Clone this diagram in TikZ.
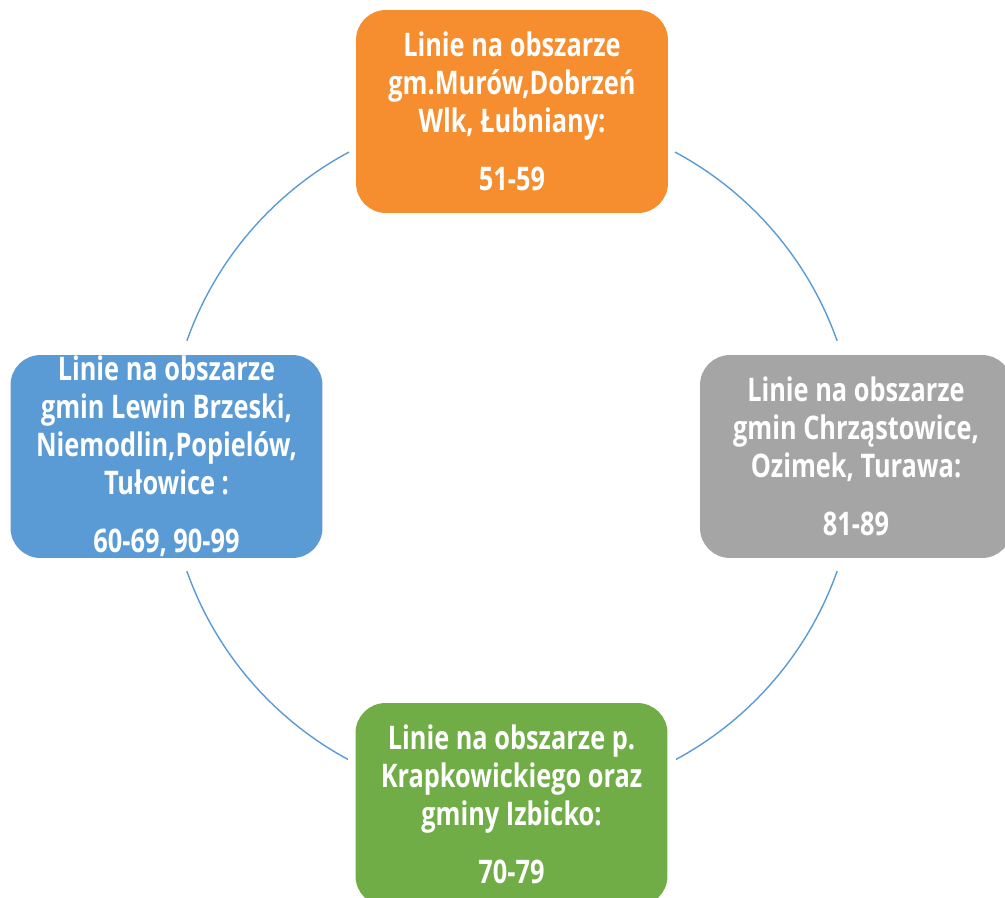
\documentclass[tikz,border=0pt]{standalone}
\usepackage{fontspec}
\newfontfamily\boxfont{Open Sans}[FakeStretch=0.78]
\definecolor{gmorange}{RGB}{246,141,46}
\definecolor{gmblue}{RGB}{91,155,213}
\definecolor{gmgray}{RGB}{165,165,165}
\definecolor{gmgreen}{RGB}{112,173,71}
\usetikzlibrary{positioning}

\begin{document}
\begin{tikzpicture}[x=0.02cm, y=-0.02cm,
  areabox/.style={rounded corners=0.6cm, minimum width=6.24cm, minimum height=4.06cm, inner sep=0pt, align=center, text=white, font=\boxfont\bfseries\fontsize{18.5}{21.6}\selectfont},
  ring/.style={gmblue, line width=0.8pt}]
  \useasboundingbox (0,0) rectangle (1005,897);
  \clip (0,0) rectangle (1005,897);
  % Areas
  \node[areabox, fill=gmorange] (murow) at (512,111.5) {Linie na obszarze\\gm.Murów,Dobrzeń\\Wlk, Łubniany:\\[0.4cm]51-59};
  \node[areabox, fill=gmblue] (lewin) at (166.5,456.5) {Linie na obszarze\\gmin Lewin Brzeski,\\Niemodlin,Popielów,\\Tułowice :\\[0.4cm]60-69, 90-99};
  \node[areabox, fill=gmgray] (chrzastowice) at (856,456.5) {Linie na obszarze\\gmin Chrząstowice,\\Ozimek, Turawa:\\[0.4cm]81-89};
  \node[areabox, fill=gmgreen] (krapkowice) at (511.5,804.5) {Linie na obszarze p.\\Krapkowickiego oraz\\gminy Izbicko:\\[0.4cm]70-79};
  % Ring
  \coordinate (ctr) at (512,456);
  \draw[ring] ([shift={(19.5:6.9cm)}]ctr) arc[start angle=19.5, end angle=61.8, radius=6.9cm];
  \draw[ring] ([shift={(118.2:6.9cm)}]ctr) arc[start angle=118.2, end angle=160.5, radius=6.9cm];
  \draw[ring] ([shift={(199.5:6.9cm)}]ctr) arc[start angle=199.5, end angle=241.6, radius=6.9cm];
  \draw[ring] ([shift={(298.4:6.9cm)}]ctr) arc[start angle=298.4, end angle=340.5, radius=6.9cm];
\end{tikzpicture}
\end{document}
